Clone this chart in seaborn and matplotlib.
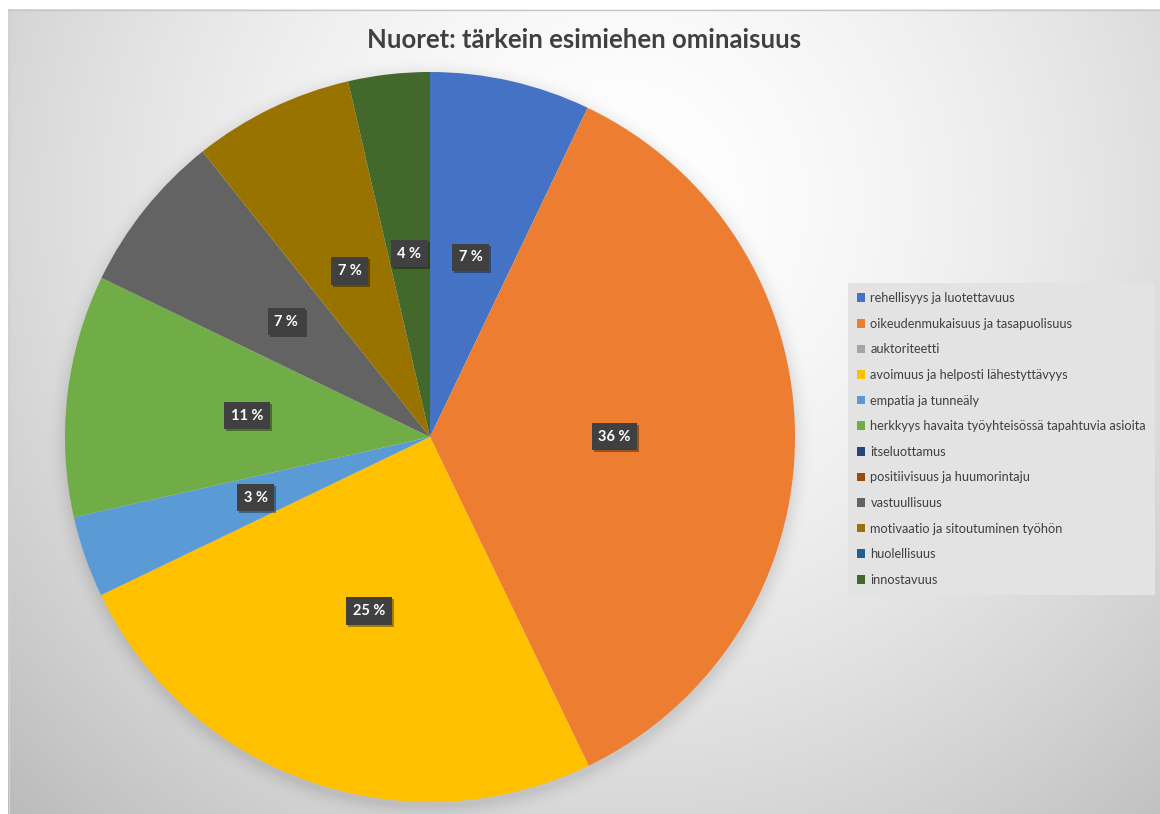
import numpy as np
import matplotlib
matplotlib.use("Agg")
import matplotlib.pyplot as plt
import matplotlib.transforms as mtransforms
from matplotlib.patches import Patch
import seaborn as sns

# ---------------- data ----------------
title = "Nuoret: tärkein esimiehen ominaisuus"
categories = [
    "rehellisyys ja luotettavuus",
    "oikeudenmukaisuus ja tasapuolisuus",
    "auktoriteetti",
    "avoimuus ja helposti lähestyttävyys",
    "empatia ja tunneäly",
    "herkkyys havaita työyhteisössä tapahtuvia asioita",
    "itseluottamus",
    "positiivisuus ja huumorintaju",
    "vastuullisuus",
    "motivaatio ja sitoutuminen työhön",
    "huolellisuus",
    "innostavuus",
]
shares = [7.1, 35.7, 0.0, 25.0, 3.6, 10.7, 0.0, 0.0, 7.1, 7.1, 0.0, 3.6]
value_labels = ["7 %", "36 %", "", "25 %", "3 %", "11 %", "", "", "7 %", "7 %", "", "4 %"]
colors_hex = ["#4472C4", "#ED7D31", "#A5A5A5", "#FFC000", "#5B9BD5", "#70AD47",
              "#264478", "#9E480E", "#636363", "#997300", "#255E91", "#43682B"]

# ---------------- style ----------------
sns.set_theme(style="white")
plt.rcParams["font.family"] = ["Lato", "DejaVu Sans"]
palette = sns.color_palette(colors_hex)

W, H = 1160, 814
fig = plt.figure(figsize=(W / 100, H / 100), dpi=100)
fig.patch.set_facecolor("white")

# ---------------- background (radial gradient + pie shadow) ----------------
bg = fig.add_axes([0, 0, 1, 1], zorder=0)
yy, xx = np.mgrid[0:H, 0:W].astype(float)
d = np.hypot(xx - 620, yy - 200)
val = 255 - 60 * np.clip(d / 800, 0, 1.2) ** 1.6
# soft shadow around the pie
pcx, pcy, R = 430, 437, 365
rp = np.hypot(xx - pcx, yy - (pcy + 4))
sh = np.clip(1 - (rp - R) / 20, 0, 1) ** 2 * 22
val = val - np.where(rp > R - 5, sh, 0)
img = np.repeat(np.clip(val, 0, 255)[..., None] / 255.0, 3, axis=2)
mask = (xx < 8) | (yy < 9)
img[mask] = 1.0
bg.imshow(img, extent=(0, W, H, 0), interpolation="bilinear", aspect="auto")
bg.plot([8, W], [9.5, 9.5], color="#c8c8c8", lw=1)
bg.plot([8.5, 8.5], [9, H], color="#d0d0d0", lw=1)
bg.set_xlim(0, W)
bg.set_ylim(H, 0)
bg.axis("off")

# ---------------- pie ----------------
ax = fig.add_axes([(pcx - R) / W, (H - pcy - R) / H, 2 * R / W, 2 * R / H], zorder=2)
ax.set_facecolor("none")
wedges, _ = ax.pie(shares, colors=palette, startangle=90, counterclock=False,
                   radius=1.0, wedgeprops=dict(linewidth=0))
ax.set_xlim(-1, 1)
ax.set_ylim(-1, 1)
ax.set_aspect("equal")
ax.axis("off")

shadow_tr = ax.transData + mtransforms.ScaledTranslation(2 / 100, -2 / 100, fig.dpi_scale_trans)
for w, lab in zip(wedges, value_labels):
    if not lab:
        continue
    th = np.deg2rad((w.theta1 + w.theta2) / 2)
    x, y = 0.505 * np.cos(th), 0.505 * np.sin(th)
    ax.text(x, y, lab, transform=shadow_tr, ha="center", va="center",
            fontsize=10.5, fontweight="bold", color="none",
            bbox=dict(boxstyle="square,pad=0.45", facecolor="black", alpha=0.35, edgecolor="none"))
    ax.text(x, y, lab, ha="center", va="center", fontsize=10.5, fontweight="bold",
            color="white",
            bbox=dict(boxstyle="square,pad=0.45", facecolor="#404040", edgecolor="none"))

# ---------------- title ----------------
fig.text(0.5035, 1 - 40 / H, title, ha="center", va="center", fontsize=18.5,
         fontweight="bold", color="#404040")

# ---------------- legend ----------------
handles = [Patch(facecolor=c, edgecolor="none") for c in palette]
leg = fig.legend(handles, categories, loc="upper left",
                 bbox_to_anchor=(848 / W, 1 - 283 / H), borderaxespad=0,
                 fontsize=9.15, frameon=True, fancybox=False,
                 handlelength=0.65, handleheight=0.65, handletextpad=0.4,
                 labelspacing=1.07, borderpad=0.72)
leg.get_frame().set_facecolor("#e3e3e3")
leg.get_frame().set_edgecolor("none")
leg.get_frame().set_alpha(1)
for t in leg.get_texts():
    t.set_color("#404040")
leg.set_zorder(5)

fig.savefig("out.png", dpi=100)
